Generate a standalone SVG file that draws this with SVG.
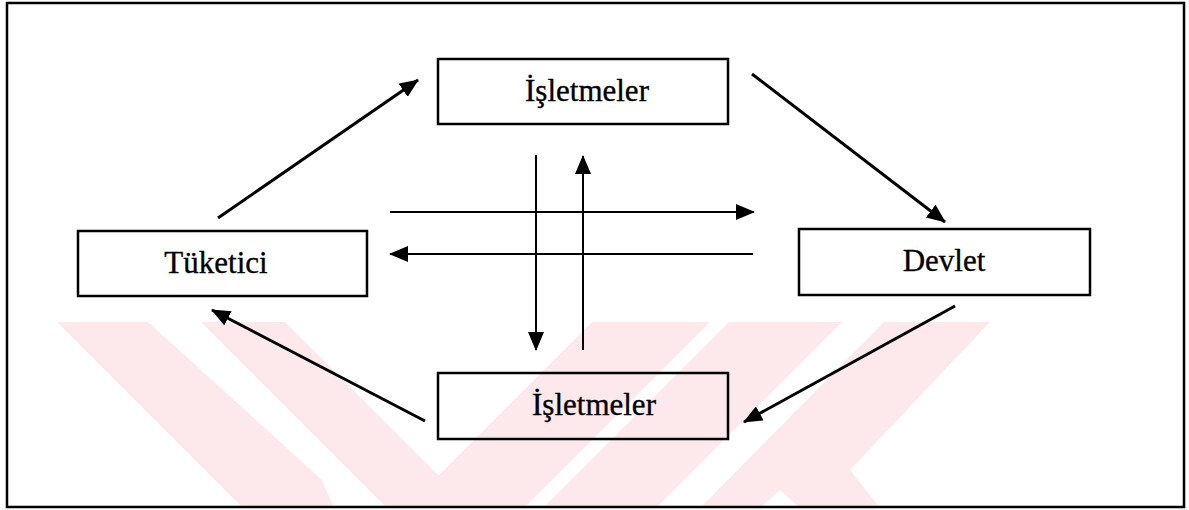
<svg xmlns="http://www.w3.org/2000/svg" width="1189" height="510" viewBox="0 0 1189 510">
  <style>
    .box { fill: none; stroke: #000; stroke-width: 2.5; }
    .lbl { font-family: "Liberation Serif", "Times New Roman", serif; font-size: 31px; fill: #000; stroke: #000; stroke-width: 0.35; text-anchor: middle; }
    .flow { stroke: #000; stroke-width: 3; fill: none; marker-end: url(#head); }
    .cross { stroke: #000; stroke-width: 2; fill: none; marker-end: url(#head); }
    .mark { fill: #fde8ec; }
  </style>
  <defs>
    <marker id="head" markerUnits="userSpaceOnUse" markerWidth="20" markerHeight="16" refX="18" refY="8" orient="auto">
      <path d="M0,0 L19,8 L0,16 z" fill="#000"/>
    </marker>
    <clipPath id="frameClip"><rect x="8" y="4" width="1175" height="502"/></clipPath>
  </defs>

  <rect width="1189" height="510" fill="#fff"/>

  <!-- faint background emblem -->
  <g id="emblem" clip-path="url(#frameClip)">
    <polygon class="mark" points="57,322 148,322 322,480 334,508 243,508"/>
    <polygon class="mark" points="201,322 285,322 471,508 387,508"/>
    <polygon class="mark" points="592,322 710,322 524,508 406,508"/>
    <polygon class="mark" points="729,322 842,322 656,508 543,508"/>
    <polygon class="mark" points="884,322 990,322 850,470 880,508 800,508 780,490 760,508 700,508"/>
  </g>

  <!-- outer frame -->
  <rect id="frame" x="7" y="3" width="1177" height="504" fill="none" stroke="#000" stroke-width="2.5"/>

  <g id="connectors">
    <line class="flow" x1="218" y1="218" x2="418" y2="80"/>
    <line class="flow" x1="752" y1="74" x2="945" y2="222"/>
    <line class="flow" x1="955" y1="306" x2="744" y2="422"/>
    <line class="flow" x1="425" y1="421" x2="212" y2="310"/>
    <line class="cross" x1="536" y1="155" x2="536" y2="350"/>
    <line class="cross" x1="583" y1="350" x2="583" y2="156"/>
    <line class="cross" x1="390" y1="212" x2="754" y2="212"/>
    <line class="cross" x1="753" y1="254" x2="390" y2="254"/>
  </g>

  <g id="node-isletmeler-top">
    <rect class="box" x="438" y="59" width="290" height="65"/>
    <text class="lbl" x="587" y="101">İşletmeler</text>
  </g>
  <g id="node-tuketici">
    <rect class="box" x="78" y="231" width="289" height="65"/>
    <text class="lbl" x="216" y="273">Tüketici</text>
  </g>
  <g id="node-devlet">
    <rect class="box" x="799" y="229" width="291" height="66"/>
    <text class="lbl" x="944" y="271">Devlet</text>
  </g>
  <g id="node-isletmeler-bottom">
    <rect class="box" x="438" y="373" width="290" height="66"/>
    <text class="lbl" x="594" y="415">İşletmeler</text>
  </g>
</svg>
